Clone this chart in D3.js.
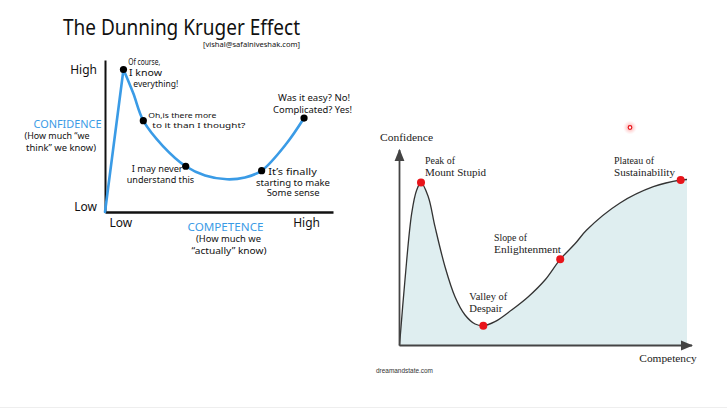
<!DOCTYPE html>
<html><head><meta charset="utf-8">
<script src="https://cdn.jsdelivr.net/npm/d3@7"></script>
<style>body{margin:0;background:#fff}svg{display:block}</style>
</head><body><svg id="c" width="727" height="408"></svg>
<script>
// ---------- Left chart data (hand-drawn Dunning Kruger) ----------
const leftCompetence = [0, 8.1, 12.4, 16.8, 25.4, 35.4, 43.9, 53.5, 61.4, 68.7, 79.7, 87.3];
const leftConfidence = [0, 93.75, 78.1, 60.1, 43.4, 30.1, 24.0, 21.5, 22.7, 27.2, 45.2, 61.8];
const leftDotIndex = [1, 3, 5, 9, 11];
const leftXTickValues = [6.7, 88.2];
const leftXTickLabels = ["Low", "High"];
const leftYTickValues = [3.3, 93.4];
const leftYTickLabels = ["Low", "High"];

// ---------- Right chart data ----------
const rightCompetency = [0, 1.9, 4.24, 5.98, 7.48, 10.0, 12.35, 15.83, 19.3, 22.8, 26.3, 29.15, 33.2, 39.0, 44.8, 50.6, 55.9, 61.2, 65.1, 76.7, 88.3, 97.8, 100];
const rightConfidence = [0, 32.75, 66.1, 77.75, 81.5, 74.4, 59.4, 39.4, 24.4, 15.25, 10.75, 9.9, 11.9, 17.75, 24.4, 32.75, 43.1, 51.1, 57.75, 71.25, 79.4, 82.75, 83.0];
const rightStageIndex = [4, 11, 16, 21];
const rightStageNames = [["Peak of", "Mount Stupid"], ["Valley of", "Despair"], ["Slope of", "Enlightenment"], ["Plateau of", "Sustainability"]];

const svg = d3.select("#c");
const hand = "'Noto Sans', sans-serif";
const serif = "'Liberation Serif', serif";
const blue = "#3a9be6";

function txt(g, s, x, y, size, len, opts = {}) {
  const t = g.append("text").attr("x", x).attr("y", y).text(s)
    .attr("font-family", opts.family || hand).attr("font-size", size)
    .attr("fill", opts.fill || "#111");
  if (opts.weight) t.attr("font-weight", opts.weight);
  if (len) t.attr("textLength", len).attr("lengthAdjust", "spacingAndGlyphs");
  return t;
}

// ---------------- LEFT ----------------
const xL = d3.scaleLinear().domain([0, 100]).range([105, 333]);
const yL = d3.scaleLinear().domain([0, 100]).range([212, 60]);
const L = svg.append("g");
txt(L, "The Dunning Kruger Effect", 63, 35, 22, 237);
txt(L, "[vishal@safalniveshak.com]", 203, 46.5, 7, 97);

const yAxisL = d3.axisLeft(yL).tickValues(leftYTickValues)
  .tickFormat((d, i) => leftYTickLabels[i]).tickSize(0).tickSizeOuter(0).tickPadding(8);
const gy = L.append("g").attr("transform", `translate(${xL(0)},0)`).call(yAxisL);
gy.select(".domain").attr("stroke", "#111").attr("stroke-width", 2);
gy.selectAll("text").attr("font-family", hand).attr("font-size", 12).attr("fill", "#111");

const xAxisL = d3.axisBottom(xL).tickValues(leftXTickValues)
  .tickFormat((d, i) => leftXTickLabels[i]).tickSize(0).tickSizeOuter(0).tickPadding(6);
const gx = L.append("g").attr("transform", `translate(0,${yL(0)})`).call(xAxisL);
gx.select(".domain").attr("stroke", "#111").attr("stroke-width", 2.5);
gx.selectAll("text").attr("font-family", hand).attr("font-size", 12).attr("fill", "#111");

const ptsL = leftCompetence.map((c, i) => [c, leftConfidence[i]]);
const lineLin = d3.line().x(d => xL(d[0])).y(d => yL(d[1]));
const lineSm = d3.line().x(d => xL(d[0])).y(d => yL(d[1])).curve(d3.curveCatmullRom.alpha(0.5));
L.append("path").attr("d", lineLin(ptsL.slice(0, 2))).attr("fill", "none")
  .attr("stroke", blue).attr("stroke-width", 2.6).attr("stroke-linecap", "round");
L.append("path").attr("d", lineSm(ptsL.slice(1))).attr("fill", "none")
  .attr("stroke", blue).attr("stroke-width", 2.6).attr("stroke-linecap", "round");
L.selectAll("circle.dot").data(leftDotIndex).join("circle").attr("class", "dot")
  .attr("cx", i => xL(leftCompetence[i])).attr("cy", i => yL(leftConfidence[i]))
  .attr("r", 3.6).attr("fill", "#000");

txt(L, "CONFIDENCE", 33.5, 127.5, 11, 68, { fill: blue });
txt(L, "(How much \u201cwe", 24.5, 139, 8.5, 65);
txt(L, "think\u201d we know)", 26, 150.5, 8.5, 70);
txt(L, "COMPETENCE", 187.5, 230.5, 11, 76, { fill: blue });
txt(L, "(How much we", 196, 241.5, 8.5, 65);
txt(L, "\u201cactually\u201d know)", 191.5, 254, 8.5, 75);

txt(L, "Of course,", 128.3, 65, 8.5, 32);
txt(L, "I know", 129, 76, 8.5, 33);
txt(L, "everything!", 133.3, 86.5, 8.5, 45);
txt(L, "Oh,is there more", 148.3, 118, 7.8, 68);
txt(L, "to it than I thought?", 152.3, 127.5, 7.8, 93);
txt(L, "I may never", 131.7, 171.7, 8.5, 51);
txt(L, "understand this", 126.7, 183, 8.5, 67.5);
txt(L, "It\u2019s finally", 268.3, 175, 8.5, 48.5);
txt(L, "starting to make", 256, 185.5, 8.5, 74);
txt(L, "Some sense", 266.7, 195.5, 8.5, 53);
txt(L, "Was it easy? No!", 278, 100.7, 8.5, 72);
txt(L, "Complicated? Yes!", 273, 112.7, 8.5, 79);

// ---------------- RIGHT ----------------
const xR = d3.scaleLinear().domain([0, 100]).range([399.5, 687]);
const yR = d3.scaleLinear().domain([0, 100]).range([345.5, 145.5]);
const R = svg.append("g");

const ptsR = rightCompetency.map((c, i) => [c, rightConfidence[i]]);
const curveR = d3.curveCatmullRom.alpha(0.5);
R.append("path").attr("d", d3.area().x(d => xR(d[0])).y0(yR(0)).y1(d => yR(d[1])).curve(curveR)(ptsR))
  .attr("fill", "#dfeef0");
R.append("path").attr("d", d3.line().x(d => xR(d[0])).y(d => yR(d[1])).curve(curveR)(ptsR))
  .attr("fill", "none").attr("stroke", "#333").attr("stroke-width", 1.3);

const defs = svg.append("defs");
defs.append("marker").attr("id", "arr").attr("viewBox", "0 0 10 10").attr("refX", 9).attr("refY", 5)
  .attr("markerWidth", 7).attr("markerHeight", 7).attr("orient", "auto")
  .append("path").attr("d", "M0,1 L10,5 L0,9 z").attr("fill", "#444");
const xAxisR = d3.axisBottom(xR).tickValues([]).tickSizeOuter(0);
const gxR = R.append("g").attr("transform", `translate(0,${yR(0)})`).call(xAxisR);
gxR.select(".domain").attr("stroke", "#444").attr("stroke-width", 1.8)
  .attr("d", `M${xR(0)},0H${xR(100) + 5}`).attr("marker-end", "url(#arr)");
const yAxisR = d3.axisLeft(yR).tickValues([]).tickSizeOuter(0);
const gyR = R.append("g").attr("transform", `translate(${xR(0)},0)`).call(yAxisR);
gyR.select(".domain").attr("stroke", "#444").attr("stroke-width", 1.8)
  .attr("d", `M0,${yR(0)}V${yR(100) + 4.5}`).attr("marker-end", "url(#arr)");

R.selectAll("circle.stage").data(rightStageIndex).join("circle").attr("class", "stage")
  .attr("cx", i => xR(rightCompetency[i])).attr("cy", i => yR(rightConfidence[i]))
  .attr("r", 4).attr("fill", "#e8141a");

const stagePos = [[425, 163.5], [469.3, 299.5], [494, 240.5], [614, 163.5]];
const stageLens = [[30, 61], [38, 33], [33, 67], [40, 61]];
rightStageNames.forEach((n, k) => {
  txt(R, n[0], stagePos[k][0], stagePos[k][1], 11, stageLens[k][0], { family: serif, fill: "#222" });
  txt(R, n[1], stagePos[k][0], stagePos[k][1] + 12, 11, stageLens[k][1], { family: serif, fill: "#222" });
});
txt(R, "Confidence", 380, 141, 11, 53, { family: serif, fill: "#222" });
txt(R, "Competency", 639.3, 362.3, 11, 57.5, { family: serif, fill: "#222" });
txt(R, "dreamandstate.com", 376, 373.3, 7, 57, { family: "'Liberation Sans', sans-serif", fill: "#333" });

const grad = defs.append("radialGradient").attr("id", "glow");
grad.append("stop").attr("offset", "0%").attr("stop-color", "#ff6b6b").attr("stop-opacity", 0.7);
grad.append("stop").attr("offset", "100%").attr("stop-color", "#ffb3b3").attr("stop-opacity", 0);
svg.append("circle").attr("cx", 630).attr("cy", 127.5).attr("r", 7).attr("fill", "url(#glow)");
svg.append("circle").attr("cx", 630).attr("cy", 127.5).attr("r", 1.8).attr("fill", "#fff")
  .attr("stroke", "#e8141a").attr("stroke-width", 1.2);
svg.append("line").attr("x1", 0).attr("x2", 727).attr("y1", 407.5).attr("y2", 407.5)
  .attr("stroke", "#eee").attr("stroke-width", 1);
</script></body></html>
